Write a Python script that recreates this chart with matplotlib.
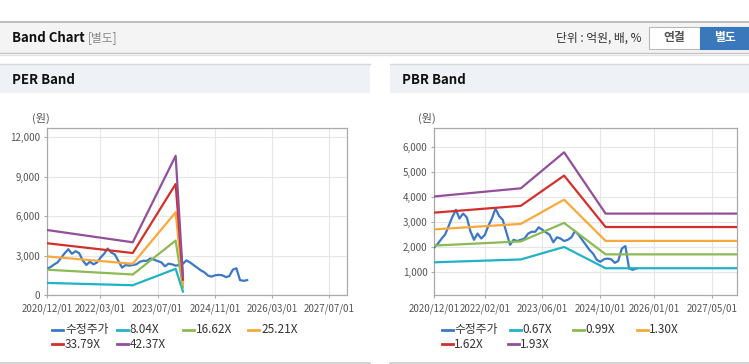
import matplotlib
matplotlib.use('Agg')
import matplotlib.pyplot as plt
from matplotlib.patches import Rectangle
from matplotlib.lines import Line2D
from matplotlib.ticker import FuncFormatter
import pandas as pd

plt.rcParams['font.family'] = ['Noto Sans CJK KR', 'DejaVu Sans']

W, H = 749, 364

# ── 데이터 ─────────────────────────────────────────────
# 수정주가 (월별, 원)
price_dates = pd.date_range('2020-12-01', '2025-08-01', freq='MS')
price = [2000, 2150, 2350, 2500, 2850, 3200, 3500, 3150, 3350, 3200,
         2650, 2300, 2550, 2350, 2500, 2850, 3150, 3550, 3250, 3100,
         2600, 2100, 2300, 2250, 2300, 2350, 2550, 2620, 2620, 2800,
         2700, 2600, 2500, 2200, 2400, 2350, 2250, 2300, 2400, 2650,
         2500, 2300, 2100, 1900, 1750, 1500, 1420, 1520, 1550, 1520,
         1380, 1450, 1950, 2050, 1150, 1100, 1150]

# PER 밴드: EPS x 배수
per_multiples = [8.04, 16.62, 25.21, 33.79, 42.37]
per_dates = pd.to_datetime(['2020-12-01', '2022-12-01', '2023-12-01', '2024-02-01'])
eps = [117, 95, 250, 35]

# PBR 밴드: BPS x 배수
pbr_multiples = [0.67, 0.99, 1.30, 1.62, 1.93]
pbr_dates = pd.to_datetime(['2020-12-01', '2022-12-01', '2023-12-01', '2024-11-15', '2027-12-01'])
bps = [2090, 2259, 3005, 1735, 1735]

per_xticks = ['2020-12-01', '2022-03-01', '2023-07-01', '2024-11-01', '2026-03-01', '2027-07-01']
pbr_xticks = ['2020-12-01', '2022-02-01', '2023-06-01', '2024-10-01', '2026-01-01', '2027-05-01']
per_yticks = [0, 3000, 6000, 9000, 12000]
pbr_yticks = [1000, 2000, 3000, 4000, 5000, 6000]

PRICE_C = '#3b78c8'
BAND_C = ['#22b2c6', '#8bbb52', '#f8a93a', '#d4302b', '#934f9c']

fig = plt.figure(figsize=(W / 100, H / 100), dpi=100)
fig.patch.set_facecolor('white')


def rect(x, y, w, h, **kw):
    fig.add_artist(Rectangle((x / W, 1 - (y + h) / H), w / W, h / H,
                             transform=fig.transFigure, **kw))


def hline(x0, x1, y, **kw):
    fig.add_artist(Line2D([x0 / W, x1 / W], [1 - y / H] * 2,
                          transform=fig.transFigure, **kw))


def txt(x, y, s, **kw):
    kw.setdefault('va', 'center')
    fig.text(x / W, 1 - y / H, s, **kw)


# ── 상단 헤더 ──────────────────────────────────────────
rect(0, 22, W, 31, fc='#f4f4f4', ec='none')
hline(0, W, 22, color='#bdbdbd', lw=1.4)
hline(0, W, 53, color='#c4c4c4', lw=1)
hline(0, W, 54.5, color='#e4e4e4', lw=1)
txt(12, 38, 'Band Chart', fontsize=9.5, fontweight='bold', color='#111111')
txt(88, 38, '[별도]', fontsize=8.5, color='#888888')
txt(642, 38, '단위 : 억원, 배, %', fontsize=8.5, color='#333333', ha='right')
rect(649, 27, 51, 22, fc='white', ec='#b8b8b8', lw=0.8)
rect(700, 27, 49, 22, fc='#3a78bb', ec='#3a78bb', lw=0.8)
txt(674.5, 38, '연결', fontsize=8.5, fontweight='bold', color='#555555', ha='center')
txt(724.5, 38, '별도', fontsize=8.5, fontweight='bold', color='white', ha='center')


def draw_panel(px0, px1, title):
    rect(px0, 64, px1 - px0, 29, fc='#eef2f7', ec='none')
    hline(px0, px1, 64, color='#d6d6d6', lw=1)
    hline(px0, px1, 363, color='#cccccc', lw=1.2)
    txt(px0 + 12, 80, title, fontsize=9.5, fontweight='bold', color='#111111')


def draw_chart(left, right, ylim, yticks, xticks, band_dates, base, multiples):
    top, bottom = 128.3, 295.3
    ax = fig.add_axes([left / W, 1 - bottom / H, (right - left) / W, (bottom - top) / H])
    ax.set_facecolor('white')
    ax.plot(price_dates, price, color=PRICE_C, lw=1.6, zorder=3, solid_joinstyle='round')
    for m, c in zip(multiples, BAND_C):
        ax.plot(band_dates, [m * b for b in base], color=c, lw=1.6, zorder=3,
                solid_joinstyle='round')
    ax.set_xlim(pd.Timestamp('2020-12-01'), pd.Timestamp('2027-12-01'))
    ax.set_ylim(*ylim)
    xt = pd.to_datetime(xticks)
    ax.set_xticks(xt)
    ax.set_xticklabels([d.strftime('%Y/%m/%d') for d in xt])
    ax.set_yticks(yticks)
    ax.yaxis.set_major_formatter(FuncFormatter(lambda v, p: f'{int(v):,}'))
    ax.grid(True, color='#e6e6e6', lw=0.8, zorder=0)
    ax.set_axisbelow(True)
    for sp in ax.spines.values():
        sp.set_color('#aaaaaa')
        sp.set_linewidth(0.9)
    ax.tick_params(axis='both', length=2.2, color='#aaaaaa', labelsize=7,
                   labelcolor='#555555', width=0.8)
    ax.tick_params(axis='x', pad=3.6)
    ax.tick_params(axis='y', pad=2.6)
    return ax


def draw_legend(cols, row_y, labels, colors, text_dx):
    for i, (lab, c) in enumerate(zip(labels, colors)):
        r, k = divmod(i, 4)
        x0 = cols[r][k]
        y = row_y[r]
        fig.add_artist(Line2D([x0 / W, (x0 + 11) / W], [1 - y / H] * 2,
                              transform=fig.transFigure, color=c, lw=2))
        txt(x0 + text_dx, y, lab, fontsize=8.5, color='#333333')


# ── PER Band ───────────────────────────────────────────
draw_panel(0, 370, 'PER Band')
txt(32, 118, '(원)', fontsize=8, color='#555555')
draw_chart(47, 347.3, (0, 12680), per_yticks, per_xticks, per_dates, eps, per_multiples)
per_labels = ['수정주가'] + [f'{m:.2f}X' for m in per_multiples]
draw_legend([[52, 117, 183, 248], [52, 117]], [329.5, 344], per_labels,
            [PRICE_C] + BAND_C, 13)

# ── PBR Band ───────────────────────────────────────────
draw_panel(390, W, 'PBR Band')
txt(418, 118, '(원)', fontsize=8, color='#555555')
draw_chart(434.3, 737.3, (80, 6760), pbr_yticks, pbr_xticks, pbr_dates, bps, pbr_multiples)
pbr_labels = ['수정주가'] + [f'{m:.2f}X' for m in pbr_multiples]
draw_legend([[442, 510, 573, 637], [442, 508]], [329.5, 344], pbr_labels,
            [PRICE_C] + BAND_C, 12)

fig.savefig('out.png', dpi=100, facecolor='white')
plt.close(fig)
